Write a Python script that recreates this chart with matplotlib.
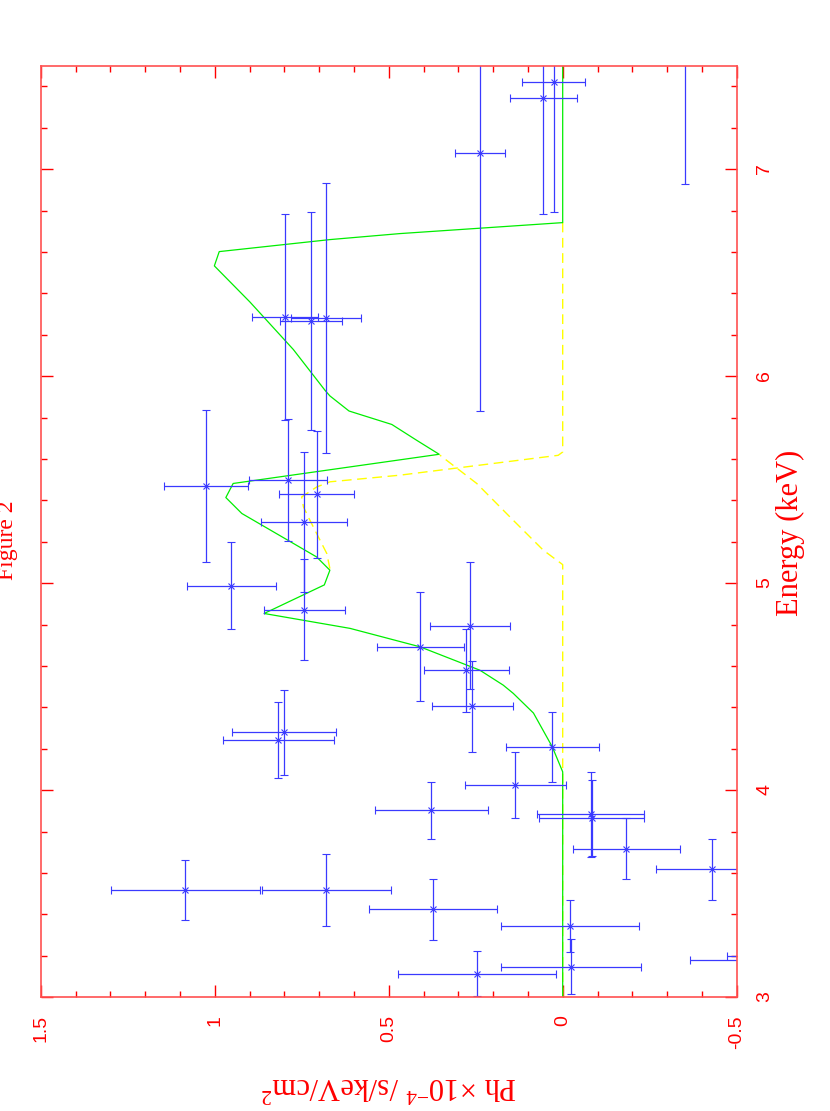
import numpy as np
import matplotlib
matplotlib.use("Agg")
import matplotlib.pyplot as plt
from matplotlib.ticker import MultipleLocator, FuncFormatter

plt.rcParams['axes.unicode_minus'] = False
plt.rcParams['mathtext.fontset'] = 'custom'
plt.rcParams['mathtext.rm'] = 'Liberation Serif'
plt.rcParams['mathtext.it'] = 'Liberation Serif:italic'

# data points: energy (keV) with half-width, flux (1e-4 ph/s/keV/cm2) with error
energy = [3.113, 3.148, 3.182, 3.200, 3.346, 3.425, 3.518, 3.518, 3.618, 3.718,
          3.867, 3.884, 3.903, 4.024, 4.210, 4.244, 4.280, 4.405, 4.579, 4.693,
          4.794, 4.873, 4.989, 5.294, 5.430, 5.469, 5.498, 6.266, 6.283, 6.286,
          7.080, 7.342, 7.420, 7.750]
energy_err = [0.109, 0.132, 0.120, 0.120, 0.126, 0.146, 0.146, 0.175, 0.146, 0.146,
              0.183, 0.204, 0.139, 0.160, 0.168, 0.183, 0.205, 0.220, 0.199, 0.263,
              0.307, 0.245, 0.212, 0.338, 0.306, 0.366, 0.295, 0.526, 0.652, 0.497,
              1.246, 0.557, 0.629, 0.820]
flux = [0.246, -0.024, -0.550, -0.620, -0.021, 0.373, 1.084, 0.679, -0.428, -0.183,
        -0.083, -0.080, 0.378, 0.136, 0.030, 0.817, 0.800, 0.260, 0.277, 0.410,
        0.266, 0.743, 0.952, 0.744, 0.707, 1.026, 0.789, 0.722, 0.681, 0.798,
        0.237, 0.056, 0.026, -0.352]
flux_err = [0.226, 0.201, 0.185, 0.148, 0.198, 0.185, 0.214, 0.186, 0.159, 0.154,
            0.152, 0.154, 0.162, 0.145, 0.134, 0.160, 0.149, 0.117, 0.123, 0.125,
            0.114, 0.116, 0.129, 0.123, 0.108, 0.121, 0.112, 0.089, 0.101, 0.094,
            0.072, 0.096, 0.091, 0.090]

# total model (green)
model_flux = [0, 0, 0.030, 0.084, 0.142, 0.171, 0.238, 0.410, 0.611, 0.858,
              0.685, 0.669, 0.707, 0.922, 0.968, 0.947, 0.355, 0.420, 0.491, 0.614,
              0.669, 0.683, 0.774, 0.899, 1.001, 0.987, 0.669, 0.468, 0, 0]
model_energy = [3.0, 4.089, 4.210, 4.373, 4.468, 4.508, 4.580, 4.693, 4.782, 4.854,
                4.992, 5.063, 5.127, 5.337, 5.414, 5.482, 5.623, 5.691, 5.767, 5.832,
                5.905, 5.932, 6.129, 6.359, 6.533, 6.602, 6.660, 6.689, 6.742, 7.5]

# component (yellow dashed), two pieces
comp1_flux = [0, 0, 0.056, 0.142, 0.247, 0.353]
comp1_energy = [3.0, 5.09, 5.160, 5.304, 5.482, 5.619]
comp2_flux = [0, 0, 0.013, 0.468, 0.669, 0.707, 0.750, 0.745, 0.726, 0.697, 0.678, 0.669]
comp2_energy = [6.742, 5.634, 5.618, 5.522, 5.490, 5.465, 5.417, 5.369, 5.303, 5.207, 5.144, 5.071]

W, H = 830, 1111
fig = plt.figure(figsize=(W / 100, H / 100), dpi=100)
ax = fig.add_axes([40.7 / W, 1 - 997.3 / H, 696 / W, 931.6 / H])

red = '#ff0000'
ax.plot(comp1_flux, comp1_energy, color='#ffff00', lw=1, dashes=(7, 4))
ax.plot(comp2_flux, comp2_energy, color='#ffff00', lw=1, dashes=(7, 4))
ax.plot(model_flux, model_energy, color='#00ee00', lw=0.9)
ax.errorbar(flux, energy, xerr=flux_err, yerr=energy_err, fmt='x', color='#3a3aff',
            ms=5, mew=0.8, elinewidth=0.9, capsize=3, capthick=0.9)

ax.set_xlim(1.5, -0.5)
ax.set_ylim(3, 7.5)
ax.xaxis.set_major_locator(MultipleLocator(0.5))
ax.xaxis.set_minor_locator(MultipleLocator(0.1))
ax.yaxis.set_major_locator(MultipleLocator(1))
ax.yaxis.set_minor_locator(MultipleLocator(0.2))
ax.xaxis.set_major_formatter(FuncFormatter(lambda v, p: '%g' % round(v, 2)))
ax.yaxis.set_major_formatter(FuncFormatter(lambda v, p: '%g' % round(v, 2)))

for s in ax.spines.values():
    s.set_color('#ff5050')
    s.set_linewidth(1.2)
ax.tick_params(which='both', direction='in', color=red, top=True, bottom=True,
               left=True, right=True, labelleft=False, labelright=True)
ax.tick_params(which='major', length=8.5, width=1)
ax.tick_params(which='minor', length=4, width=1)
ax.tick_params(axis='x', labelrotation=90, labelsize=14, labelcolor=red, pad=13)
ax.tick_params(axis='y', labelrotation=90, labelsize=14, labelcolor=red, pad=14)
for lab in ax.get_xticklabels() + ax.get_yticklabels():
    lab.set_family('Liberation Sans')

fig.text(790 / W, 1 - 533 / H, 'Energy (keV)', rotation=90, ha='center', va='center',
         family='Liberation Serif', size=22, color=red)
fig.text(388.7 / W, 1 - 1085 / H, r'Ph $\times$10$^{-4}$ /s/keV/cm$^{2}$', rotation=180,
         ha='center', va='center', family='Liberation Serif', size=22, color=red)
fig.text(8 / W, 1 - 540 / H, 'Figure 2', rotation=90, ha='center', va='center',
         family='Liberation Serif', size=17, color=red)

fig.savefig('out.png', dpi=100)
